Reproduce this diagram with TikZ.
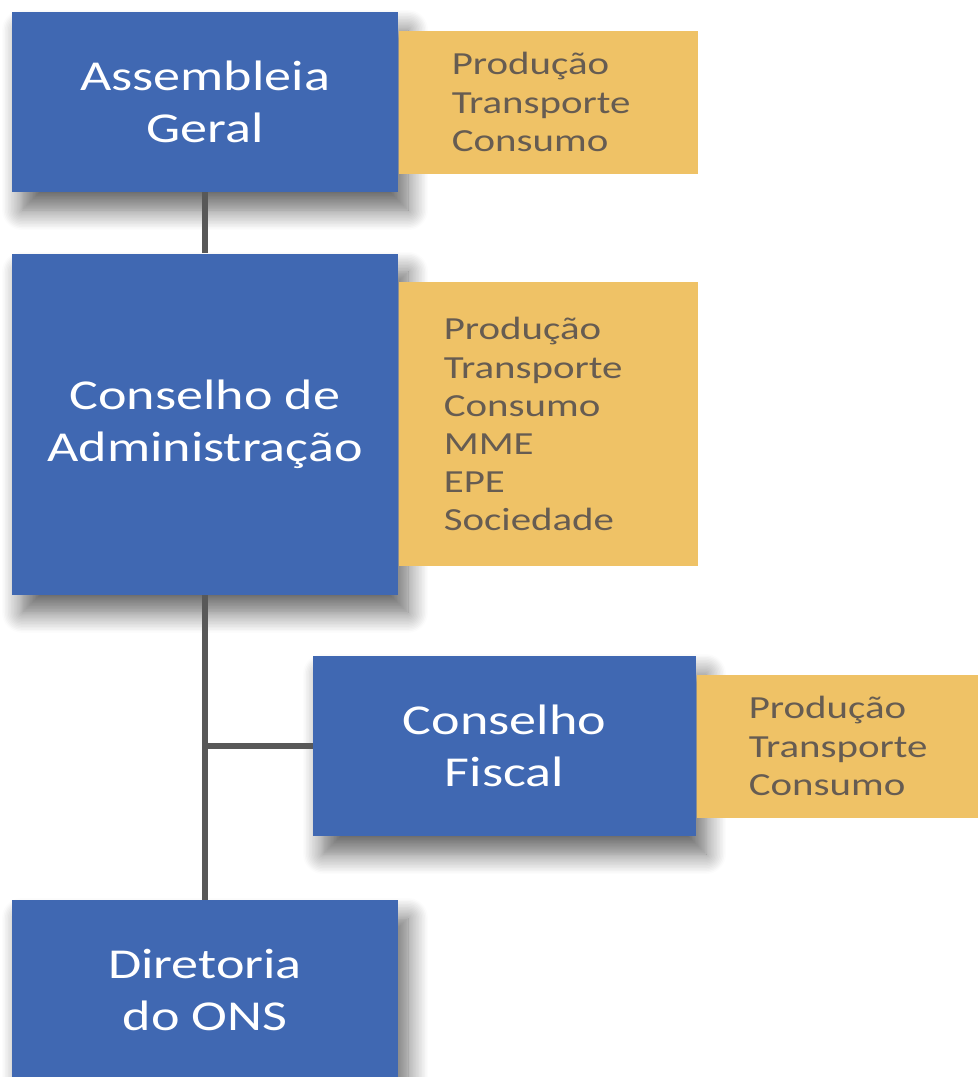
\documentclass[tikz,border=0pt]{standalone}
\usepackage{fontspec}
\usepackage{xcolor}
\usepackage{tikz}
\usetikzlibrary{positioning, shadows.blur}
\newfontfamily\orgfont{Carlito}[FakeStretch=1.27]
\definecolor{onsblue}{RGB}{64,104,178}
\definecolor{onsgold}{RGB}{239,194,102}
\definecolor{onstext}{RGB}{102,92,82}
\definecolor{onsline}{RGB}{88,88,88}

\begin{document}
\begin{tikzpicture}[x=0.5pt, y=-0.5pt]
        \tikzstyle{unit} = [rectangle, fill=onsblue, text=white, align=center, minimum width=193pt, minimum height=90pt, inner sep=0pt, font=\orgfont\fontsize{21.3}{26}\selectfont, blur shadow={shadow xshift=5pt, shadow yshift=-9pt, shadow blur radius=10pt, shadow blur steps=14, shadow opacity=60}]
        \tikzstyle{members} = [rectangle, fill=onsgold, text=onstext, align=left, text width=96.5pt, inner xsep=26.5pt, inner ysep=0pt, minimum height=71.5pt, font=\orgfont\fontsize{16.1}{19.1}\selectfont]
        \tikzstyle{line} = [draw=onsline, line width=2.7pt]

        \useasboundingbox (0,0) rectangle (978,1077);

        \node [unit] (assembly) at (205,102) {Assembleia\\Geral};
        \node [members, right=0pt of assembly] (assemblyseats) {Produção\\Transporte\\Consumo};

        \node [unit, below=30.5pt of assembly, minimum height=170.5pt] (board) {Conselho de\\Administração};
        \node [members, right=0pt of board, minimum height=142pt, text width=104.5pt, inner xsep=22.5pt] (boardseats) {Produção\\Transporte\\Consumo\\MME\\EPE\\Sociedade};

        \node [unit, minimum width=191.5pt] (fiscal) at (504.5,746) {Conselho\\Fiscal};
        \node [members, right=0pt of fiscal, text width=89pt, inner xsep=26pt] (fiscalseats) {Produção\\Transporte\\Consumo};

        \node [unit] (directors) at (205,990) {Diretoria\\do ONS};

        \coordinate (branch) at (board.south |- fiscal.west);

        \path [line] (assembly) -- (board);
        \path [line] (board) -- (directors);
        \path [line] (branch) -- (fiscal);
    \end{tikzpicture}
\end{document}
